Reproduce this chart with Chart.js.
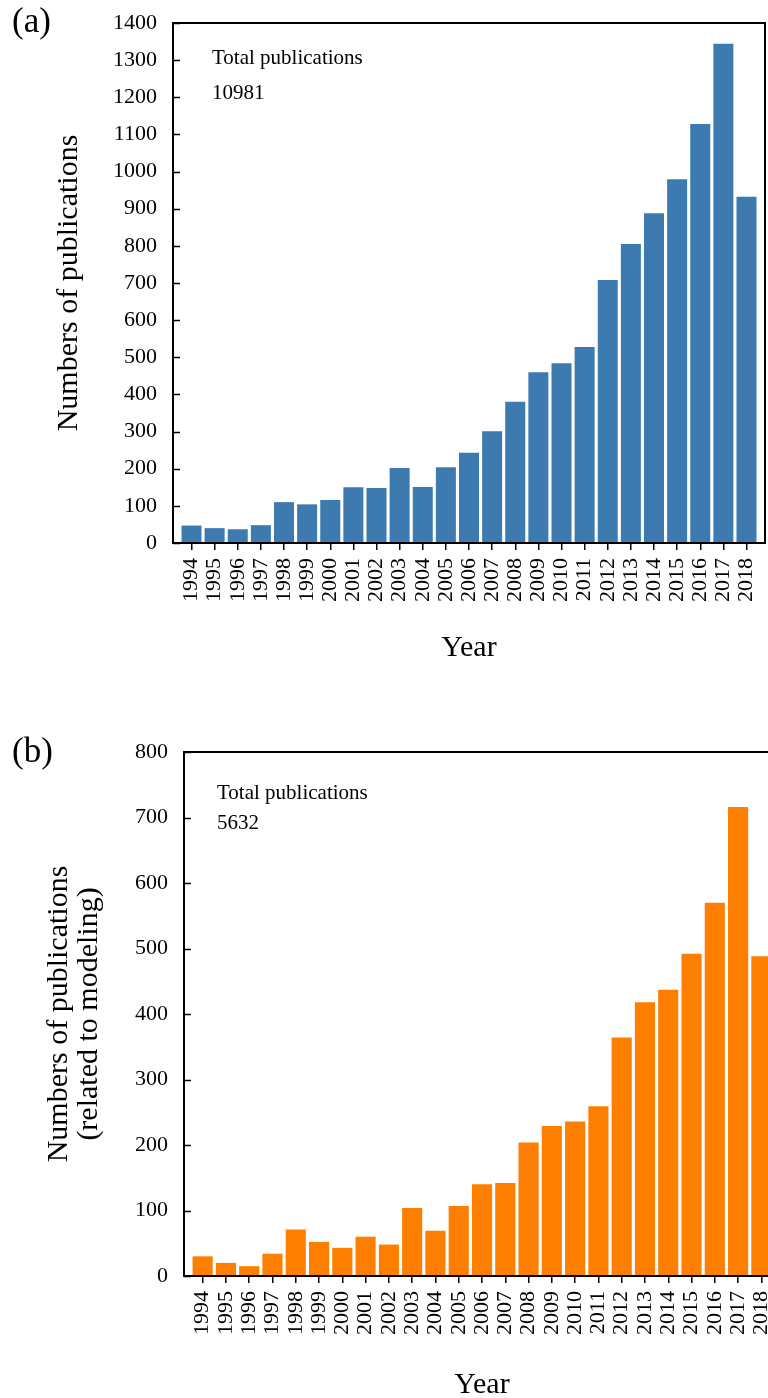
<html>
<head>
    <meta charset="UTF-8">
    <script src="https://cdn.jsdelivr.net/npm/chart.js"></script>
    <title>Publications</title>
    <style>
        html, body { margin: 0; padding: 0; background: #fff; overflow: hidden; }
        body { width: 768px; height: 1398px; }
        .panel { width: 768px; overflow: hidden; position: relative; }
    </style>
</head>
<body>
    <div class="panel" style="height: 690px;"><canvas id="pubAll" width="768" height="690"></canvas></div>
    <div class="panel" style="height: 708px;"><canvas id="pubModel" width="790" height="716"></canvas></div>
    <script>
        const years = ['1994', '1995', '1996', '1997', '1998', '1999', '2000', '2001', '2002', '2003', '2004', '2005', '2006',
                       '2007', '2008', '2009', '2010', '2011', '2012', '2013', '2014', '2015', '2016', '2017', '2018'];
        // publications per year
        const pubAll = [47, 40, 37, 48, 110, 104, 116, 150, 148, 202, 151, 204, 243,
                        301, 380, 460, 484, 528, 708, 805, 888, 979, 1128, 1344, 932];
        const pubModel = [30, 20, 15, 34, 71, 52, 43, 60, 48, 104, 69, 107, 140,
                          142, 204, 229, 236, 259, 364, 418, 437, 492, 570, 716, 488];
        const maxAll = 1400;
        const maxModel = 800;
        const yStep = 100;
        const noteAll = ['Total publications', '10981'];
        const noteModel = ['Total publications', '5632'];

        const serif = '"Liberation Serif", "Times New Roman", serif';

        // box around the plot area, inward y ticks, and the notes inside it
        const framePlugin = {
            id: 'frame',
            afterDraw(chart, args, opts) {
                const ctx = chart.ctx;
                const a = chart.chartArea;
                const ys = chart.scales.y;
                ctx.save();
                ctx.strokeStyle = '#000';
                ctx.lineWidth = 1.5;
                ys.ticks.forEach(t => {
                    const py = Math.round(ys.getPixelForValue(t.value)) + 0.5;
                    ctx.beginPath();
                    ctx.moveTo(a.left, py);
                    ctx.lineTo(a.left + 7, py);
                    ctx.stroke();
                });
                ctx.lineWidth = 2;
                ctx.strokeRect(a.left, a.top, a.right - a.left, a.bottom - a.top);
                ctx.fillStyle = '#000';
                ctx.textBaseline = 'alphabetic';
                ctx.textAlign = 'left';
                ctx.font = '21px ' + serif;
                ctx.fillText(opts.note[0], a.left + opts.dx, a.top + opts.dy[0]);
                ctx.fillText(opts.note[1], a.left + opts.dx, a.top + opts.dy[1]);
                ctx.font = '35px ' + serif;
                ctx.fillText(opts.panel, opts.px, opts.py);
                ctx.restore();
            }
        };

        function makeChart(id, values, color, yMax, yTitle, g) {
            return new Chart(document.getElementById(id), {
                type: 'bar',
                data: {
                    datasets: [{
                        data: values.map((v, i) => ({ x: i, y: v })),
                        backgroundColor: color,
                        borderWidth: 0,
                        categoryPercentage: 1,
                        barPercentage: 0.865
                    }]
                },
                options: {
                    responsive: false,
                    animation: false,
                    events: [],
                    layout: { padding: { left: 0, top: g.top, right: g.right, bottom: 0 } },
                    plugins: {
                        legend: { display: false },
                        tooltip: { enabled: false },
                        frame: g.frame
                    },
                    scales: {
                        x: {
                            type: 'linear',
                            offset: false,
                            bounds: 'data',
                            min: -0.8,
                            max: years.length - 0.2,
                            afterBuildTicks: s => { s.ticks = years.map((_, i) => ({ value: i })); },
                            afterFit: s => {
                                s.height = g.xH;
                                s.paddingLeft = 0;
                                s.paddingRight = 0;
                            },
                            ticks: {
                                autoSkip: false, minRotation: 90, maxRotation: 90, padding: 8,
                                color: '#000', font: { family: serif, size: 22 },
                                callback: v => years[v]
                            },
                            grid: { drawOnChartArea: false, offset: false, tickLength: 7, color: '#000', lineWidth: 1.5 },
                            border: { color: '#000', width: 2 },
                            title: {
                                display: true, text: 'Year', color: '#000',
                                font: { family: serif, size: 30 },
                                padding: { top: 0, bottom: g.yearPad }
                            }
                        },
                        y: {
                            min: 0,
                            max: yMax,
                            afterFit: s => {
                                s.width = g.left;
                                s.paddingTop = 0;
                                s.paddingBottom = 0;
                            },
                            ticks: {
                                stepSize: yStep, padding: 16, color: '#000',
                                font: { family: serif, size: 22 },
                                callback: v => String(v)
                            },
                            grid: { drawOnChartArea: false, drawTicks: false },
                            border: { color: '#000', width: 2 },
                            title: {
                                display: true, text: yTitle, color: '#000',
                                font: { family: serif, size: 30, lineHeight: g.titleLH },
                                padding: { top: g.titlePad, bottom: 0 }
                            }
                        }
                    }
                },
                plugins: [framePlugin]
            });
        }

        makeChart('pubAll', pubAll, '#3c7aaf', maxAll, 'Numbers of publications', {
            top: 23, right: 3, left: 173, xH: 147, yearPad: 24, titlePad: 51, titleLH: 1.2,
            frame: { note: noteAll, dx: 39, dy: [41, 76], panel: '(a)', px: 12, py: 32 }
        });

        makeChart('pubModel', pubModel, '#fe7f00', maxModel,
            ['Numbers of publications', '(related to modeling)'], {
            top: 62, right: 10, left: 184, xH: 130, yearPad: 3, titlePad: 44, titleLH: 1.0,
            frame: { note: noteModel, dx: 33, dy: [47, 77], panel: '(b)', px: 12, py: 72 }
        });
    </script>
</body>
</html>
